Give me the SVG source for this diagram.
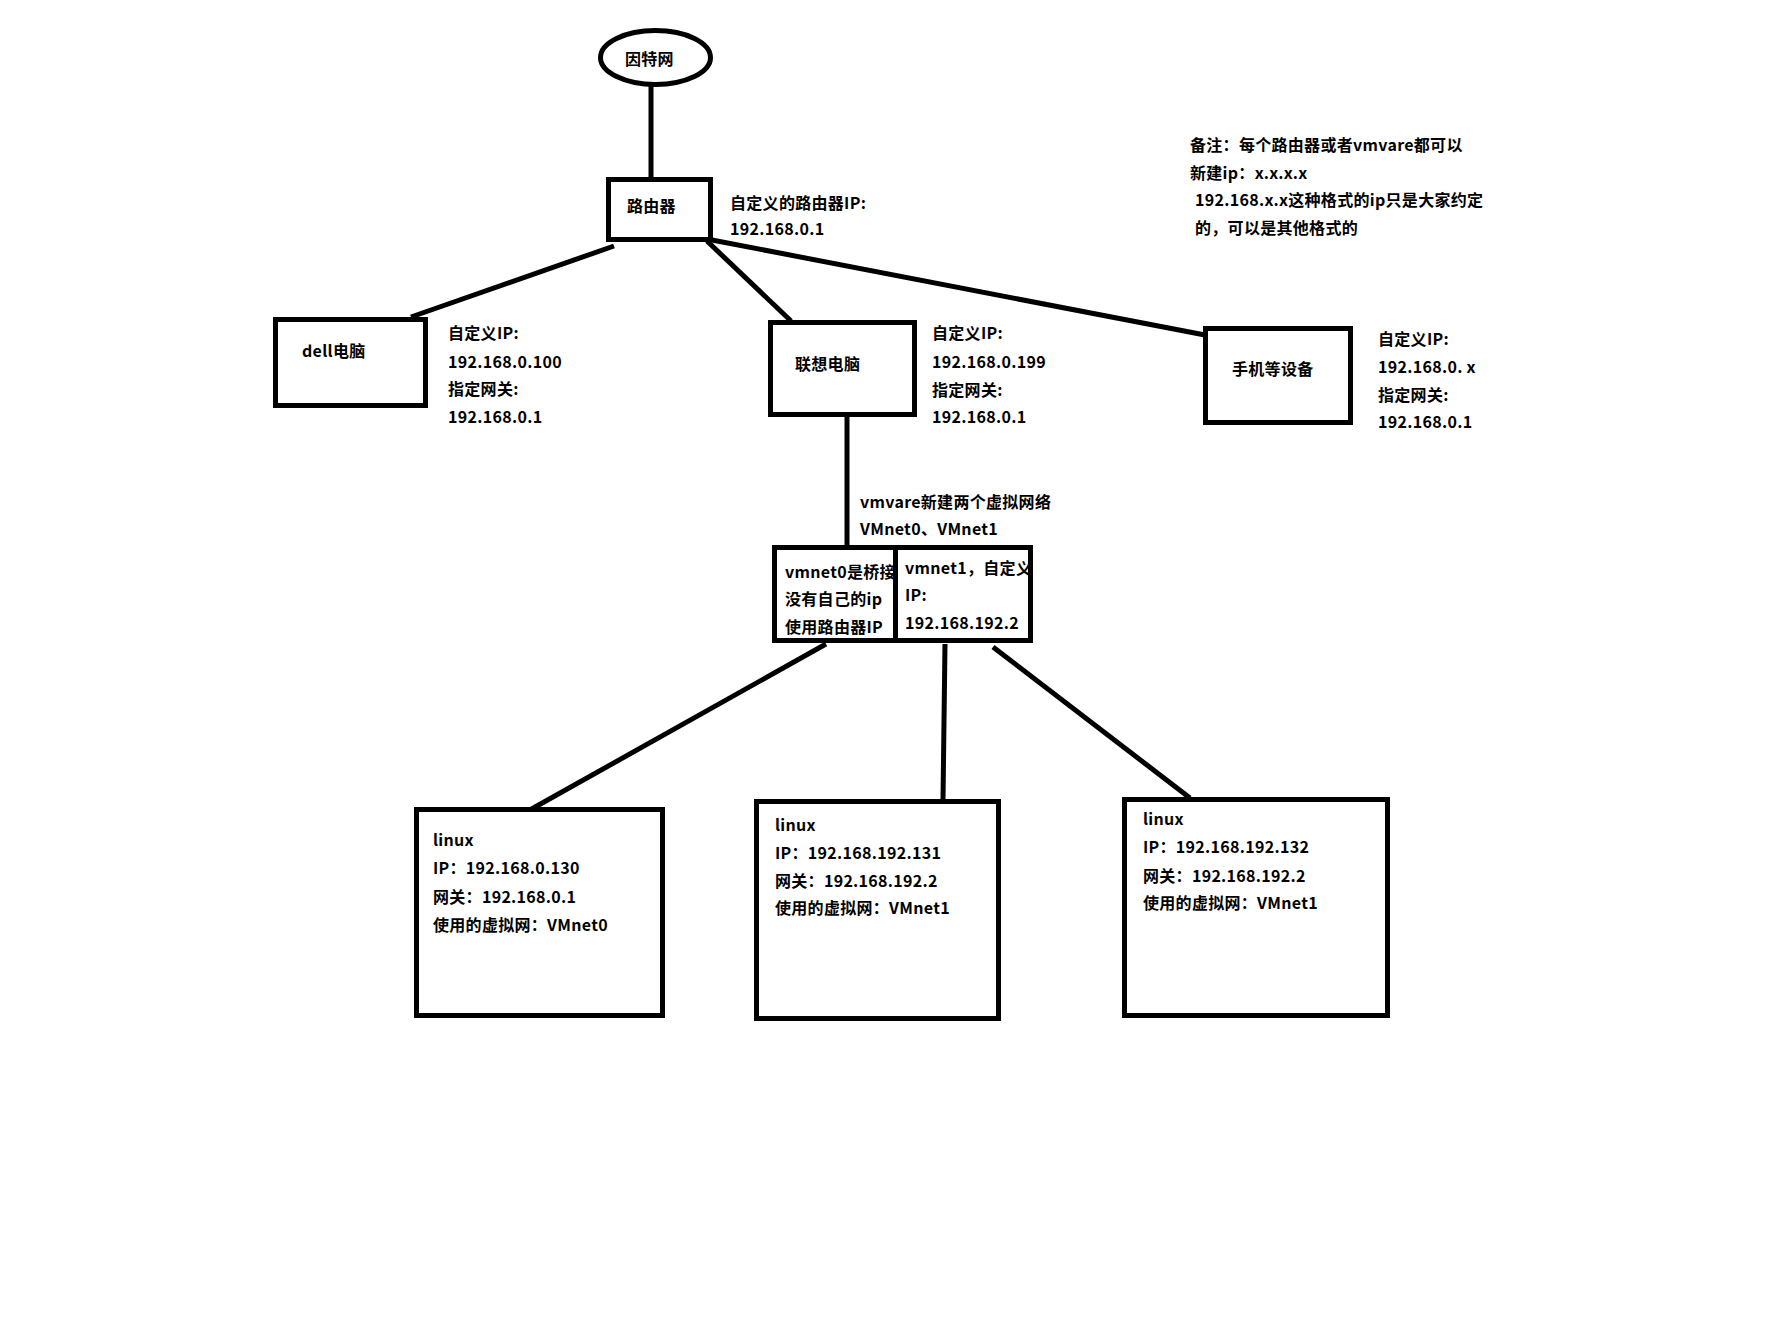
<svg xmlns="http://www.w3.org/2000/svg" width="1768" height="1320" viewBox="0 0 1768 1320">
<style>
.t{font-family:"Microsoft YaHei","Noto Sans CJK SC","Noto Sans",sans-serif;font-size:16px;font-weight:bold;fill:#000;letter-spacing:0.3px}
.b{fill:#fff;stroke:#000;stroke-width:5}
.c{stroke:#000;stroke-width:5;fill:none}
</style>
<rect width="1768" height="1320" fill="#fff"/>
<g id="connectors">
<line class="c" x1="651" y1="84" x2="651" y2="179"/>
<line class="c" x1="614" y1="246" x2="411" y2="317"/>
<line class="c" x1="707" y1="241" x2="791" y2="321"/>
<line class="c" x1="712" y1="240" x2="1205" y2="335"/>
<line class="c" x1="847" y1="416" x2="847" y2="546"/>
<line class="c" x1="826" y1="644" x2="528" y2="811"/>
<line class="c" x1="945" y1="644" x2="943" y2="800"/>
<line class="c" x1="993" y1="647" x2="1190" y2="798"/>
</g>
<g id="internet">
<ellipse cx="655.5" cy="57.5" rx="55" ry="27" fill="#fff" stroke="#000" stroke-width="5"/>
<text class="t" x="625" y="65">因特网</text>
</g>
<g id="router">
<rect class="b" x="608.5" y="179.5" width="102" height="60"/>
<text class="t" x="627" y="212">路由器</text>
</g>
<g id="router-label">
<text class="t" x="730" y="209">自定义的路由器IP:</text>
<text class="t" x="730" y="235">192.168.0.1</text>
</g>
<g id="note">
<text class="t" x="1190" y="151">备注：每个路由器或者vmvare都可以</text>
<text class="t" x="1190" y="179">新建ip：x.x.x.x</text>
<text class="t" x="1195" y="206">192.168.x.x这种格式的ip只是大家约定</text>
<text class="t" x="1195" y="234">的，可以是其他格式的</text>
</g>
<g id="dell">
<rect class="b" x="275.5" y="319.5" width="150" height="86"/>
<text class="t" x="302" y="357">dell电脑</text>
<text class="t" x="448" y="339">自定义IP:</text>
<text class="t" x="448" y="368">192.168.0.100</text>
<text class="t" x="448" y="395">指定网关:</text>
<text class="t" x="448" y="423">192.168.0.1</text>
</g>
<g id="lenovo">
<rect class="b" x="770.5" y="322.5" width="144" height="92"/>
<text class="t" x="795" y="370">联想电脑</text>
<text class="t" x="932" y="339">自定义IP:</text>
<text class="t" x="932" y="368">192.168.0.199</text>
<text class="t" x="932" y="396">指定网关:</text>
<text class="t" x="932" y="423">192.168.0.1</text>
</g>
<g id="phone">
<rect class="b" x="1205.5" y="328.5" width="145" height="94"/>
<text class="t" x="1232" y="375">手机等设备</text>
<text class="t" x="1378" y="345">自定义IP:</text>
<text class="t" x="1378" y="373">192.168.0. x</text>
<text class="t" x="1378" y="401">指定网关:</text>
<text class="t" x="1378" y="428">192.168.0.1</text>
</g>
<g id="vmware-label">
<text class="t" x="860" y="508">vmvare新建两个虚拟网络</text>
<text class="t" x="860" y="535">VMnet0、VMnet1</text>
</g>
<g id="vmnet0">
<rect x="774.5" y="547.5" width="121" height="93" fill="#fff"/>
<text class="t" x="785" y="578">vmnet0是桥接</text>
<text class="t" x="785" y="605">没有自己的ip</text>
<text class="t" x="785" y="633">使用路由器IP</text>
<rect x="774.5" y="547.5" width="121" height="93" fill="none" stroke="#000" stroke-width="5"/>
</g>
<g id="vmnet1">
<text class="t" x="905" y="574">vmnet1，自定义</text>
<text class="t" x="905" y="601">IP:</text>
<text class="t" x="905" y="629">192.168.192.2</text>
<rect x="895.5" y="547.5" width="135" height="93" fill="none" stroke="#000" stroke-width="5"/>
</g>
<g id="linux1">
<rect class="b" x="416.5" y="809.5" width="246" height="206"/>
<text class="t" x="433" y="846">linux</text>
<text class="t" x="433" y="874">IP：192.168.0.130</text>
<text class="t" x="433" y="903">网关：192.168.0.1</text>
<text class="t" x="433" y="931">使用的虚拟网：VMnet0</text>
</g>
<g id="linux2">
<rect class="b" x="756.5" y="801.5" width="242" height="217"/>
<text class="t" x="775" y="831">linux</text>
<text class="t" x="775" y="859">IP：192.168.192.131</text>
<text class="t" x="775" y="887">网关：192.168.192.2</text>
<text class="t" x="775" y="914">使用的虚拟网：VMnet1</text>
</g>
<g id="linux3">
<rect class="b" x="1124.5" y="799.5" width="263" height="216"/>
<text class="t" x="1143" y="825">linux</text>
<text class="t" x="1143" y="853">IP：192.168.192.132</text>
<text class="t" x="1143" y="882">网关：192.168.192.2</text>
<text class="t" x="1143" y="909">使用的虚拟网：VMnet1</text>
</g>
</svg>
